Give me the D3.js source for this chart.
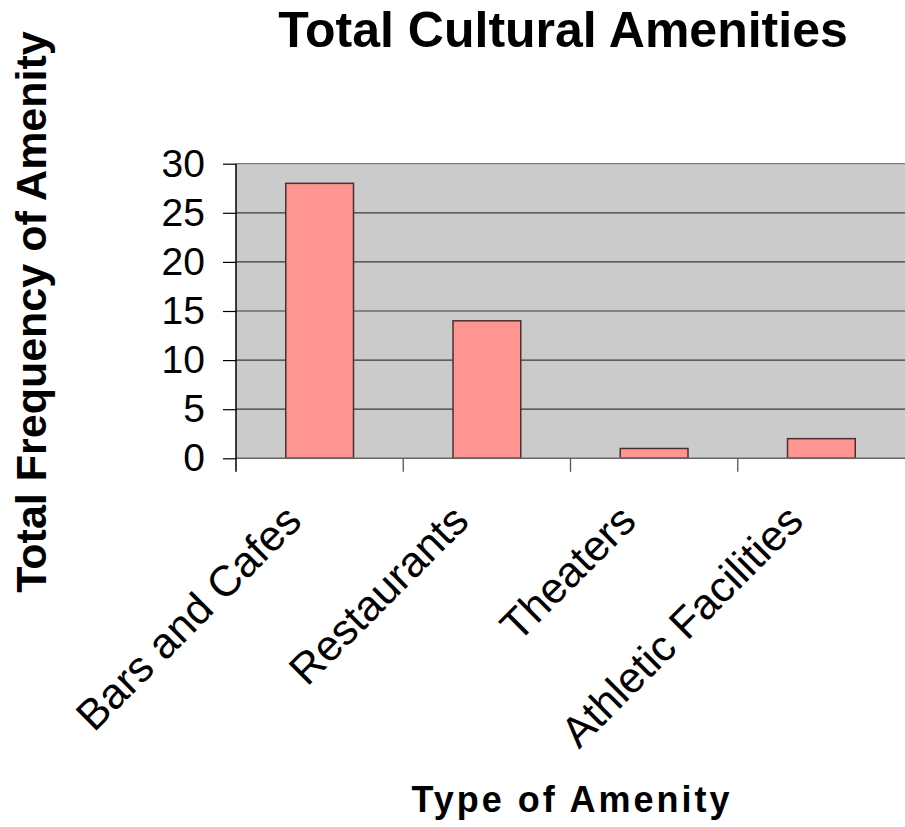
<!DOCTYPE html>
<html>
<head>
<meta charset="utf-8">
<script src="https://cdn.jsdelivr.net/npm/d3@7"></script>
<style>
  html, body { margin: 0; padding: 0; background: #fff; }
  svg { display: block; }
  text { font-family: "Liberation Sans", Arial, sans-serif; fill: #000; }
</style>
</head>
<body>
<svg id="chart" width="905" height="827"></svg>
<script>
const categories = ["Bars and Cafes", "Restaurants", "Theaters", "Athletic Facilities"];
const values = [28, 14, 1, 2];
const yTicks = [0, 5, 10, 15, 20, 25, 30];
const chartTitle = "Total Cultural Amenities";
const xTitle = "Type of Amenity";
const yTitle = "Total Frequency of Amenity";

const svg = d3.select("#chart");
const plot = { left: 236, right: 905, top: 163.7, bottom: 458.3 };

const x = d3.scaleBand().domain(categories).range([plot.left, plot.right]).paddingInner(0).paddingOuter(0);
const y = d3.scaleLinear().domain([0, 30]).range([plot.bottom, plot.top]);
const barW = x.bandwidth() * 0.405;

// plot background
svg.append("rect")
  .attr("x", plot.left).attr("y", plot.top)
  .attr("width", plot.right - plot.left).attr("height", plot.bottom - plot.top)
  .attr("fill", "#cbcbcb");

// gridlines
svg.append("g").selectAll("line")
  .data(yTicks.filter(d => d > 0))
  .join("line")
  .attr("x1", plot.left).attr("x2", plot.right)
  .attr("y1", d => y(d)).attr("y2", d => y(d))
  .attr("stroke", d => d === 30 ? "#7a7a7a" : "#3a3a3a")
  .attr("stroke-width", 1.2);

// bars
svg.append("g").selectAll("rect")
  .data(categories.map((c, i) => ({ c, v: values[i] })))
  .join("rect")
  .attr("x", d => x(d.c) + (x.bandwidth() - barW) / 2)
  .attr("y", d => y(d.v))
  .attr("width", barW)
  .attr("height", d => y(0) - y(d.v))
  .attr("fill", "#ff9591")
  .attr("stroke", "#4a3030")
  .attr("stroke-width", 1.5);

// x axis baseline
svg.append("line")
  .attr("x1", plot.left).attr("x2", plot.right)
  .attr("y1", y(0)).attr("y2", y(0))
  .attr("stroke", "#666").attr("stroke-width", 1.5);

// x axis ticks (between categories)
svg.append("g").selectAll("line")
  .data(categories.slice(1))
  .join("line")
  .attr("x1", d => x(d)).attr("x2", d => x(d))
  .attr("y1", y(0)).attr("y2", y(0) + 13.5)
  .attr("stroke", "#555").attr("stroke-width", 1.3);

// y axis
const yAxis = d3.axisLeft(y).tickValues(yTicks).tickSize(13).tickPadding(18).tickFormat(d3.format("d"));
const gy = svg.append("g").attr("transform", `translate(${plot.left},0)`).call(yAxis);
gy.select(".domain").remove();
gy.selectAll(".tick line").attr("stroke", "#000").attr("stroke-width", 1.2);
gy.selectAll(".tick text")
  .attr("font-family", "Liberation Sans, Arial, sans-serif")
  .attr("font-size", 39).attr("fill", "#000");
svg.append("line")
  .attr("x1", plot.left).attr("x2", plot.left)
  .attr("y1", plot.top).attr("y2", plot.bottom + 13.5)
  .attr("stroke", "#000").attr("stroke-width", 1.5);

// x category labels rotated
svg.append("g").selectAll("text")
  .data(categories)
  .join("text")
  .attr("transform", d => `translate(${x(d) + x.bandwidth() / 2 - 16},${plot.bottom + 65}) rotate(-45)`)
  .attr("text-anchor", "end")
  .attr("font-size", 43)
  .text(d => d);

// chart title
svg.append("text")
  .attr("x", 563).attr("y", 47)
  .attr("text-anchor", "middle")
  .attr("font-size", 50).attr("font-weight", "bold")
  .text(chartTitle);

// x title
svg.append("text")
  .attr("x", 572).attr("y", 812)
  .attr("text-anchor", "middle")
  .attr("font-size", 36).attr("font-weight", "bold")
  .attr("letter-spacing", 3)
  .text(xTitle);

// y title
svg.append("text")
  .attr("transform", `translate(46,312) rotate(-90)`)
  .attr("text-anchor", "middle")
  .attr("font-size", 43).attr("font-weight", "bold")
  .text(yTitle);
</script>
</body>
</html>
